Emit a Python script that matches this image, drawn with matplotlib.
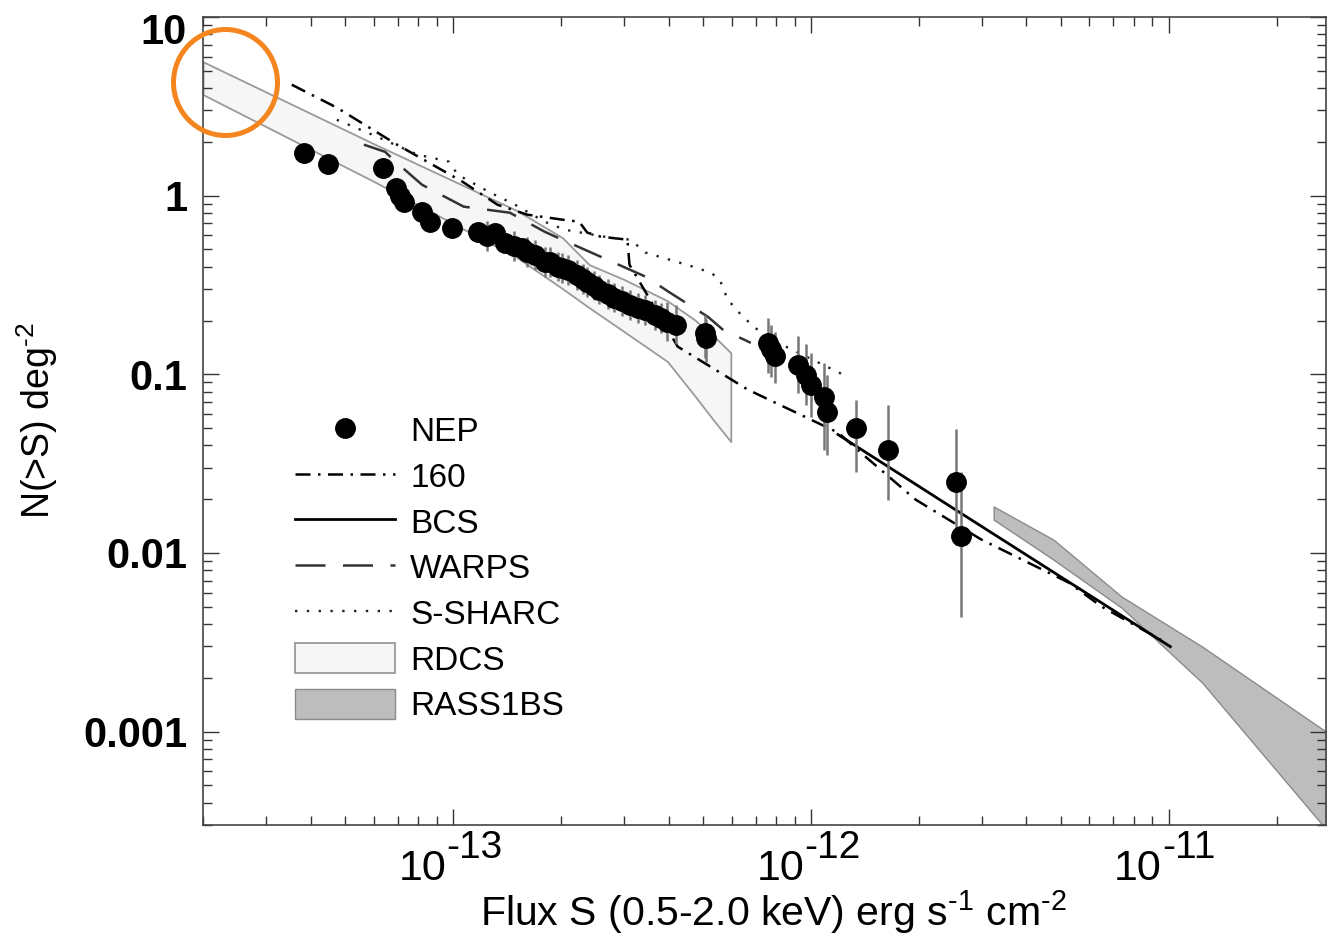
"""NEP cluster logN-logS compared with other X-ray cluster surveys."""

import numpy as np
import matplotlib.pyplot as plt
from matplotlib import patches
from matplotlib.lines import Line2D
from matplotlib.ticker import LogLocator, NullFormatter

plt.rcParams["font.family"] = ["Liberation Sans", "DejaVu Sans"]
plt.rcParams["mathtext.fontset"] = "custom"
plt.rcParams["mathtext.rm"] = "Liberation Sans"
plt.rcParams["mathtext.it"] = "Liberation Sans:italic"
plt.rcParams["mathtext.bf"] = "Liberation Sans:bold"
plt.rcParams["mathtext.default"] = "regular"

# NEP cumulative counts with error bar ends
nep_flux = [3.83e-14, 4.47e-14, 6.37e-14, 6.92e-14, 7.10e-14, 7.29e-14, 8.19e-14,
            8.62e-14, 9.94e-14, 1.17e-13, 1.31e-13, 1.40e-13, 1.56e-13, 1.69e-13,
            1.80e-13, 1.96e-13, 2.09e-13, 2.22e-13, 2.37e-13, 2.56e-13, 2.82e-13,
            3.13e-13, 3.43e-13, 3.66e-13, 3.97e-13, 4.19e-13, 5.05e-13, 5.08e-13,
            7.58e-13, 7.73e-13, 7.93e-13, 9.20e-13, 9.68e-13, 1.00e-12, 1.09e-12,
            1.11e-12, 1.34e-12, 1.64e-12, 2.55e-12, 2.63e-12,
            1.245e-13, 1.48e-13, 1.61e-13, 1.87e-13, 2.02e-13, 2.30e-13, 2.47e-13,
            2.70e-13, 2.97e-13, 3.28e-13, 3.80e-13]
nep_n = [1.74, 1.51, 1.42, 1.11, 0.99, 0.926, 0.814, 0.715, 0.662, 0.629, 0.621,
         0.546, 0.512, 0.468, 0.427, 0.401, 0.386, 0.361, 0.330, 0.298, 0.269,
         0.245, 0.230, 0.216, 0.197, 0.190, 0.171, 0.160, 0.150, 0.138, 0.126,
         0.113, 0.0996, 0.0876, 0.0750, 0.0618, 0.0503, 0.0379, 0.0251, 0.0124,
         0.597, 0.525, 0.486, 0.427, 0.396, 0.343, 0.314, 0.283, 0.258, 0.236, 0.208]
nep_hi = [1.74, 1.51, 1.42, 1.11, 0.99, 0.926, 0.814, 0.715, 0.662, 0.629, 0.621,
          0.621, 0.582, 0.568, 0.518, 0.486, 0.468, 0.438, 0.400, 0.361, 0.326,
          0.297, 0.279, 0.262, 0.254, 0.245, 0.216, 0.205, 0.208, 0.190, 0.173,
          0.163, 0.147, 0.132, 0.116, 0.0996, 0.0722, 0.0677, 0.0497, 0.0285,
          0.724, 0.637, 0.590, 0.518, 0.480, 0.416, 0.381, 0.343, 0.313, 0.286, 0.252]
nep_lo = [1.74, 1.51, 1.42, 1.11, 0.99, 0.926, 0.814, 0.715, 0.662, 0.629, 0.621,
          0.480, 0.450, 0.386, 0.352, 0.331, 0.318, 0.298, 0.272, 0.246, 0.222,
          0.202, 0.190, 0.178, 0.153, 0.147, 0.124, 0.117, 0.102, 0.096, 0.0899,
          0.079, 0.0677, 0.058, 0.0379, 0.0355, 0.0285, 0.0199, 0.0111, 0.0044,
          0.492, 0.433, 0.401, 0.352, 0.326, 0.283, 0.259, 0.233, 0.213, 0.195, 0.171]

# 160 deg^2 survey
s160_flux = [3.54e-14, 4.73e-14, 6.97e-14, 1.06e-13, 1.33e-13, 1.61e-13, 2.02e-13,
             2.25e-13, 2.37e-13, 2.58e-13, 3.07e-13, 3.11e-13, 4.24e-13, 6.66e-13,
             1.19e-12, 1.42e-12, 1.96e-12, 2.99e-12, 5.25e-12, 6.49e-12, 9.81e-12]
s160_n = [4.18, 3.11, 1.93, 1.20, 0.890, 0.783, 0.734, 0.715, 0.621, 0.590, 0.567,
          0.411, 0.143, 0.0821, 0.0472, 0.0346, 0.0199, 0.0119, 0.00683, 0.00501,
          0.00315]

# BCS
bcs_flux = [1.19e-12, 2.58e-12, 1.01e-11]
bcs_n = [0.046, 0.01706, 0.00299]

# WARPS
warps_flux = [5.63e-14, 6.45e-14, 7.06e-14, 8.19e-14, 1.07e-13, 1.44e-13, 1.80e-13,
              1.93e-13, 3.45e-13, 4.03e-13, 5.15e-13, 5.67e-13, 6.79e-13]
warps_n = [1.93, 1.76, 1.49, 1.15, 0.868, 0.803, 0.629, 0.590, 0.352, 0.287, 0.210,
           0.178, 0.150]

# S-SHARC
ssharc_flux = [4.73e-14, 6.12e-14, 7.93e-14, 9.74e-14, 1.03e-13, 1.27e-13, 1.49e-13,
               1.80e-13, 2.05e-13, 2.74e-13, 3.13e-13, 3.45e-13, 4.58e-13, 5.25e-13,
               5.56e-13, 5.85e-13, 6.45e-13, 7.20e-13, 8.62e-13, 1.23e-12]
ssharc_n = [2.66, 2.14, 1.70, 1.55, 1.31, 1.04, 0.890, 0.715, 0.645, 0.582, 0.567,
            0.480, 0.406, 0.371, 0.339, 0.262, 0.210, 0.173, 0.141, 0.0996]

# RDCS band
rdcs_flux = [2.0e-14, 6.01e-14, 1.51e-13, 2.02e-13, 2.40e-13, 3.01e-13, 3.97e-13,
             4.73e-13, 5.38e-13, 5.97e-13]
rdcs_hi = [5.62, 1.95, 0.824, 0.582, 0.411, 0.339, 0.258, 0.202, 0.162, 0.132]
rdcs_lo = [3.68, 1.20, 0.450, 0.302, 0.236, 0.173, 0.118, 0.076, 0.0544, 0.042]

# RASS1BS band
rass_flux = [3.24e-12, 4.76e-12, 7.38e-12, 1.24e-11, 2.77e-11]
rass_hi = [0.0182, 0.01188, 0.0057, 0.00299, 0.00099]
rass_lo = [0.01538, 0.00918, 0.00494, 0.00188, 0.00028]

x_exponents = [-13, -12, -11]
y_ticks = [0.001, 0.01, 0.1, 1, 10]
y_labels = ["0.001", "0.01", "0.1", "1", "10"]

fig = plt.figure(figsize=(13.28, 9.35), dpi=100)
ax = fig.add_axes([0.1529, 0.1176, 0.8456, 0.8642])
ax.set_xscale("log")
ax.set_yscale("log")

rdcs_style = dict(facecolor="#f6f6f6", edgecolor="#9a9a9a", linewidth=1.3)
rass_style = dict(facecolor="#bdbdbd", edgecolor="#8a8a8a", linewidth=1.0)
s160_style = dict(color="black", lw=1.8, dashes=(6, 3, 1, 3))
bcs_style = dict(color="black", lw=2.0)
warps_style = dict(color="#333333", lw=1.8, dashes=(12, 7))
ssharc_style = dict(color="#222222", lw=1.7, dashes=(1, 4))

ax.fill_between(rdcs_flux, rdcs_lo, rdcs_hi, zorder=1, **rdcs_style)
ax.fill_between(rass_flux, rass_lo, rass_hi, zorder=1, **rass_style)
ax.plot(s160_flux, s160_n, zorder=2, **s160_style)
ax.plot(bcs_flux, bcs_n, zorder=2, **bcs_style)
ax.plot(warps_flux, warps_n, zorder=2, **warps_style)
ax.plot(ssharc_flux, ssharc_n, zorder=2, **ssharc_style)

nep_n_arr = np.array(nep_n)
yerr = [nep_n_arr - np.array(nep_lo), np.array(nep_hi) - nep_n_arr]
ax.errorbar(nep_flux, nep_n, yerr=yerr, fmt="o", color="black", ms=14,
            ecolor="#777777", elinewidth=1.8, capsize=0, zorder=4)

ax.set_xlim(2e-14, 2.75e-11)
ax.set_ylim(3e-4, 10)

ax.xaxis.set_major_locator(LogLocator(base=10))
ax.xaxis.set_minor_locator(LogLocator(base=10, subs=np.arange(2, 10)))
ax.xaxis.set_minor_formatter(NullFormatter())
ax.xaxis.set_major_formatter(NullFormatter())
ax.yaxis.set_major_locator(LogLocator(base=10))
ax.yaxis.set_minor_locator(LogLocator(base=10, subs=np.arange(2, 10)))
ax.yaxis.set_minor_formatter(NullFormatter())
ax.yaxis.set_major_formatter(NullFormatter())

# x tick labels: "10" with a large raised exponent, as in the original
for e in x_exponents:
    ax.annotate("10", xy=(10.0 ** e, 0), xycoords=("data", "axes fraction"),
                xytext=(-5, -39.6), textcoords="offset points",
                ha="right", va="baseline", fontsize=31)
    ax.annotate("-%d" % abs(e), xy=(10.0 ** e, 0), xycoords=("data", "axes fraction"),
                xytext=(-5, -23.8), textcoords="offset points",
                ha="left", va="baseline", fontsize=28)

# y tick labels, the top one kept inside the frame
for v, txt in zip(y_ticks, y_labels):
    dy = -8 if v == 10 else 0
    ax.annotate(txt, xy=(0, v), xycoords=("axes fraction", "data"),
                xytext=(-11.5, dy), textcoords="offset points",
                ha="right", va="center_baseline", fontsize=30, fontweight="bold")

ax.tick_params(which="both", direction="in", top=True, right=True,
               color="#333333", width=1.0)
ax.tick_params(which="major", length=11.5)
ax.tick_params(which="minor", length=6.5)
for sp in ax.spines.values():
    sp.set_color("#444444")
    sp.set_linewidth(1.2)

ax.set_xlabel(r"Flux S (0.5-2.0 keV) erg s$^{\text{-}1}$ cm$^{\text{-}2}$", fontsize=29.5)
ax.set_ylabel(r"N(>S) deg$^{\text{-}2}$", fontsize=27)
ax.xaxis.set_label_coords(0.508, -0.078)
ax.yaxis.set_label_coords(-0.127, 0.5)

handles = [
    Line2D([], [], ls="none", marker="o", color="black", ms=14),
    Line2D([], [], **s160_style),
    Line2D([], [], **bcs_style),
    Line2D([], [], **warps_style),
    Line2D([], [], **ssharc_style),
    patches.Patch(**rdcs_style),
    patches.Patch(**rass_style),
]
labels = ["NEP", "160", "BCS", "WARPS", "S-SHARC", "RDCS", "RASS1BS"]
ax.legend(handles, labels, loc="upper left", bbox_to_anchor=(0.082, 0.5076),
          frameon=False, fontsize=24, handlelength=3.0, handletextpad=0.45,
          handleheight=1.0, labelspacing=0.37, borderpad=0, borderaxespad=0)

# orange highlight circle drawn over the figure
fig.add_artist(patches.Ellipse((225.5 / 1328, 1 - 82.5 / 935), 104 / 1328, 106 / 935,
                               transform=fig.transFigure, fill=False,
                               edgecolor="#f5861f", lw=3.6, zorder=10))

fig.savefig("out.png", dpi=100)
